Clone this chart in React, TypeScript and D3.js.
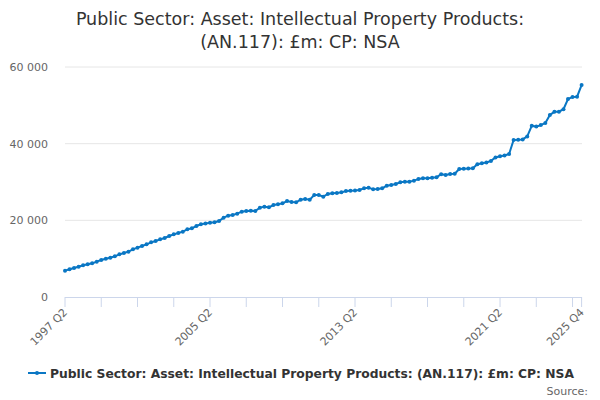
import React, { useEffect } from 'react';
import * as d3 from 'd3';

// quarterly series, 1997 Q2 .. 2025 Q4 (£m)
const firstYear = 1997;
const firstQuarter = 2;

const values1997to2004 = [
  6870, 7220, 7570, 7910, 8260, 8520, 8780, 9220, 9650, 10000, 10260, 10610, 11130, 11480, 11830,
  12430, 12870, 13300, 13740, 14260, 14610, 15040, 15390, 15910, 16350, 16700, 17040, 17650, 17910,
];
const values2004to2011 = [
  18520, 18960, 19200, 19390, 19480, 19830, 20700, 21220, 21390, 21740, 22260, 22430, 22520, 22430,
  23300, 23570, 23390, 24000, 24170, 24430, 25040, 24780, 24700, 25390, 25570, 25390, 26610, 26610,
  26170,
];
const values2011to2018 = [
  26870, 27050, 27100, 27300, 27650, 27740, 27800, 27910, 28350, 28520, 28090, 28170, 28350, 29040,
  29220, 29480, 29910, 30090, 30090, 30350, 30780, 30960, 30960, 31100, 31220, 32050, 31850, 32100,
];
const values2018to2025 = [
  32150, 33400, 33450, 33500, 33600, 34650, 34900, 35100, 35500, 36400, 36700, 36900, 37300, 40950,
  41000, 41100, 41900, 44650, 44450, 44850, 45400, 47500, 48300, 48350, 49000, 51650, 52200, 52250,
  55300,
];

const yTicks = [0, 20000, 40000, 60000];
const shownLabels = ['1997 Q2', '2005 Q2', '2013 Q2', '2021 Q2', '2025 Q4'];

const title = ['Public Sector: Asset: Intellectual Property Products:', '(AN.117): £m: CP: NSA'];
const seriesName = 'Public Sector: Asset: Intellectual Property Products: (AN.117): £m: CP: NSA';

const values = [...values1997to2004, ...values2004to2011, ...values2011to2018, ...values2018to2025];
const quarters = values.map((_, i) => {
  const q = firstQuarter - 1 + i;
  return `${firstYear + Math.floor(q / 4)} Q${(q % 4) + 1}`;
});

const font = '"DejaVu Sans", Verdana, sans-serif';
const blue = '#0a77c4';

const App: React.FC = () => {
  useEffect(() => {
    document.body.style.margin = '0';
  }, []);

  const width = 600;
  const height = 400;
  const x = d3.scalePoint<string>().domain(quarters).range([65, 581.6]);
  const y = d3.scaleLinear().domain([0, 60000]).range([297, 67]);

  const fmt = d3.formatLocale({ decimal: '.', thousands: ' ', grouping: [3], currency: ['', ''] }).format(',');

  // tick marks every 8 quarters plus the last one
  const tickQuarters = quarters.filter((_, i) => i % 8 === 0);
  tickQuarters.push(quarters[quarters.length - 1]);

  const line = d3
    .line<number>()
    .x((_, i) => x(quarters[i]) ?? 0)
    .y((d) => y(d));

  return (
    <svg width={width} height={height} style={{ display: 'block', fontFamily: font }}>
      <rect width={width} height={height} fill="#fff" />
      <text textAnchor="middle" fill="#333" fontSize={17.5}>
        <tspan x={300} y={25}>{title[0]}</tspan>
        <tspan x={300} y={48}>{title[1]}</tspan>
      </text>

      {yTicks.slice(1).map((t) => (
        <line key={t} x1={65} x2={582} y1={y(t)} y2={y(t)} stroke="#e6e6e6" />
      ))}
      {yTicks.map((t) => (
        <text key={t} x={48} y={y(t) + 4} textAnchor="end" fontSize={11} fill="#666">
          {fmt(t)}
        </text>
      ))}

      <line x1={65} x2={582} y1={297.5} y2={297.5} stroke="#ccd6eb" />
      {tickQuarters.map((q) => (
        <line key={q} x1={x(q)} x2={x(q)} y1={297} y2={307} stroke="#ccd6eb" />
      ))}
      {shownLabels.map((q) => (
        <text
          key={q}
          transform={`translate(${(x(q) ?? 0) + 3},${313}) rotate(-45)`}
          textAnchor="end"
          fontSize={11}
          fill="#666"
        >
          {q}
        </text>
      ))}

      <path d={line(values) ?? ''} fill="none" stroke={blue} strokeWidth={2} />
      {values.map((v, i) => (
        <circle key={i} cx={x(quarters[i])} cy={y(v)} r={2} fill={blue} />
      ))}

      <line x1={28} x2={46} y1={373} y2={373} stroke={blue} strokeWidth={2} />
      <circle cx={37} cy={373} r={2} fill={blue} />
      <text x={50} y={377.5} fontSize={12.3} fontWeight="bold" fill="#333">
        {seriesName}
      </text>
      <text x={588} y={395} textAnchor="end" fontSize={11} fill="#666">
        Source:
      </text>
    </svg>
  );
};

export default App;
